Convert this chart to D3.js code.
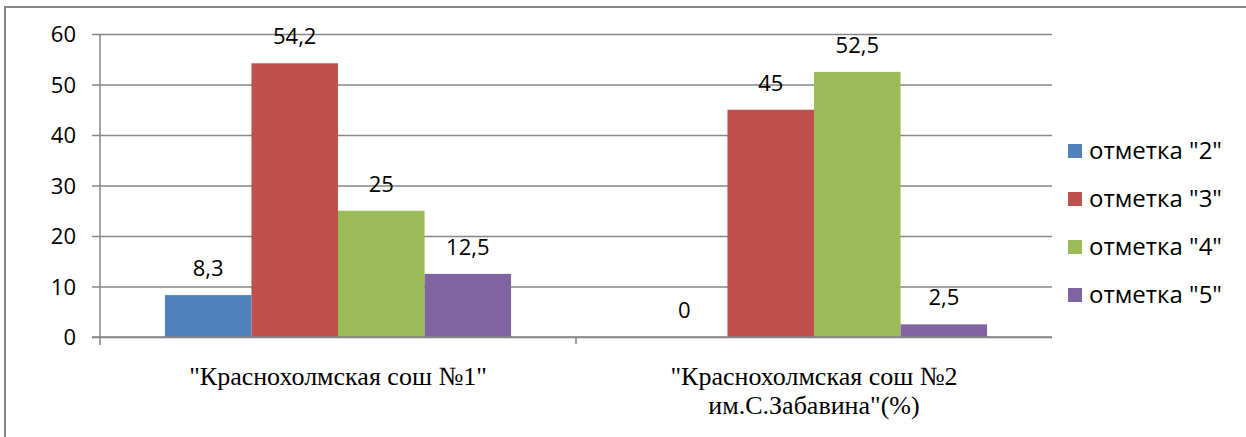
<!DOCTYPE html>
<html><head><meta charset="utf-8">
<script src="https://cdn.jsdelivr.net/npm/d3@7"></script>
<style>body{margin:0;background:#fff}svg{display:block}
.sans{font-family:"Open Sans","Liberation Sans",sans-serif}
</style>
</head><body>
<svg id="c" width="1246" height="437"></svg>
<script>
const categories = [["\"Краснохолмская сош №1\""], ["\"Краснохолмская сош №2", "им.С.Забавина\"(%)"]];
const seriesNames = ["отметка \"2\"", "отметка \"3\"", "отметка \"4\"", "отметка \"5\""];
const seriesColors = ["#4F81BD", "#C0504D", "#9BBB59", "#8064A2"];
const values2 = [8.3, 0];
const values3 = [54.2, 45];
const values4 = [25, 52.5];
const values5 = [12.5, 2.5];
const yTicks = [0, 10, 20, 30, 40, 50, 60];

const seriesValues = [values2, values3, values4, values5];
const svg = d3.select("#c");
const L = 100, R = 1052, T = 34, B = 337;

svg.append("rect").attr("x", 5).attr("y", 7).attr("width", 1300).attr("height", 500)
  .attr("fill", "none").attr("stroke", "#868686").attr("stroke-width", 2);

const x0 = d3.scaleBand().domain(d3.range(categories.length)).range([L, R]).paddingInner(0).paddingOuter(0);
const groupW = x0.bandwidth() * 4 / 5.5;
const x1 = d3.scaleBand().domain(d3.range(seriesNames.length)).range([0, groupW]);
const y = d3.scaleLinear().domain([0, 60]).range([B, T]);

const yAxis = d3.axisLeft(y).tickValues(yTicks).tickSize(-(R - L)).tickFormat(d3.format("d"));
const gy = svg.append("g").attr("transform", `translate(${L},0)`).call(yAxis);
gy.select(".domain").remove();
gy.selectAll(".tick line").attr("stroke", "#868686").attr("stroke-width", 1.5).attr("x1", -8);
gy.selectAll(".tick text").attr("class", "sans").attr("font-family", null).attr("font-size", 22).attr("fill", "#000")
  .attr("text-anchor", "end").attr("x", -24).attr("dy", "0.35em");

svg.append("line").attr("x1", L).attr("x2", L).attr("y1", T).attr("y2", B + 8).attr("stroke", "#868686").attr("stroke-width", 1.5);
svg.append("line").attr("x1", x0(1)).attr("x2", x0(1)).attr("y1", B).attr("y2", B + 7).attr("stroke", "#868686").attr("stroke-width", 1.5);

seriesValues.forEach((vals, s) => {
  vals.forEach((v, c) => {
    const bx = x0(c) + (x0.bandwidth() - groupW) / 2 + x1(s);
    svg.append("rect").attr("x", bx).attr("y", y(v)).attr("width", x1.bandwidth()).attr("height", y(0) - y(v))
      .attr("fill", seriesColors[s]);
    svg.append("text").attr("class", "sans").attr("x", bx + x1.bandwidth() / 2).attr("y", y(v) - 19)
      .attr("text-anchor", "middle").attr("font-size", 22)
      .attr("fill", "#000").text(String(v).replace(".", ","));
  });
});

svg.append("line").attr("x1", L - 8).attr("x2", R).attr("y1", B).attr("y2", B).attr("stroke", "#868686").attr("stroke-width", 1.5);

categories.forEach((lines, c) => {
  const cx = x0(c) + x0.bandwidth() / 2;
  lines.forEach((ln, i) => {
    svg.append("text").attr("x", cx).attr("y", 385 + i * 29)
      .style("font-family", "'Liberation Serif', 'DejaVu Serif', 'Times New Roman', serif")
      .attr("text-anchor", "middle").attr("font-size", 26).attr("fill", "#000").text(ln);
  });
});

seriesNames.forEach((n, i) => {
  const ly = 151 + i * 48;
  svg.append("rect").attr("x", 1068).attr("y", ly - 7).attr("width", 14).attr("height", 14).attr("fill", seriesColors[i]);
  svg.append("text").attr("class", "sans").attr("x", 1089).attr("y", ly + 8).attr("font-size", 24).attr("fill", "#000").text(n);
});
</script>
</body></html>
